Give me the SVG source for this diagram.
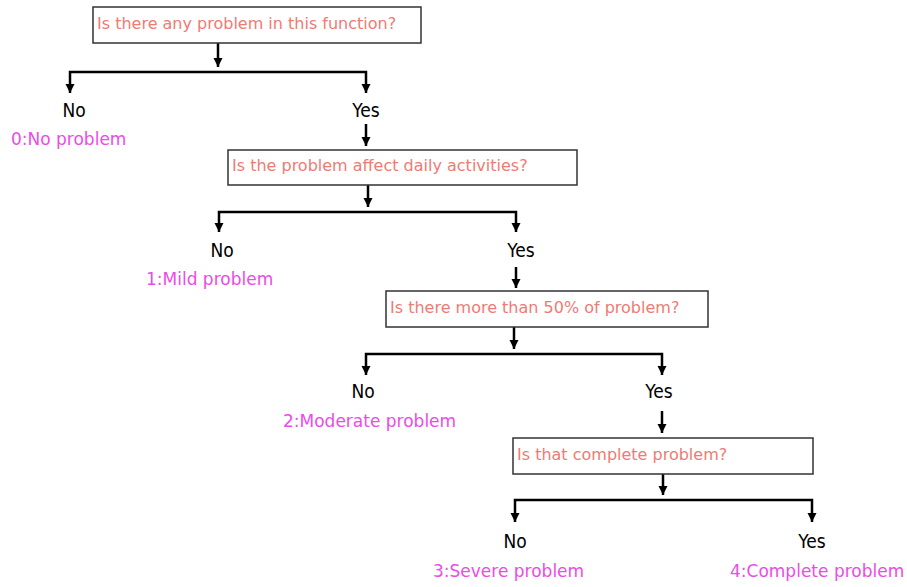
<svg xmlns="http://www.w3.org/2000/svg" width="907" height="587" viewBox="0 0 907 587">
<defs>
<marker id="ah" markerUnits="userSpaceOnUse" markerWidth="10" markerHeight="10" refX="9" refY="4.5" orient="auto">
<path d="M0,0 L9,4.5 L0,9 z" fill="#000"/>
</marker>
<style>
.box{fill:#fff;stroke:#333;stroke-width:1.5}
.q{font-family:"DejaVu Sans",Verdana,sans-serif;font-size:16px;fill:#ee7b74}
.yn{font-family:"DejaVu Sans Condensed","DejaVu Sans",sans-serif;font-size:19px;fill:#000;text-anchor:middle}
.res{font-family:"DejaVu Sans",Verdana,sans-serif;font-size:17px;fill:#ea4ce8}
.c{fill:none;stroke:#000;stroke-width:2.5}
</style>
</defs>
<rect width="907" height="587" fill="#fff"/>
<g id="connectors">
<path class="c" d="M218,43 V67" marker-end="url(#ah)"/>
<path class="c" d="M218,72 H70 V93" marker-end="url(#ah)"/>
<path class="c" d="M218,72 H366 V93" marker-end="url(#ah)"/>
<path class="c" d="M366,124 V146" marker-end="url(#ah)"/>
<path class="c" d="M368,185 V207" marker-end="url(#ah)"/>
<path class="c" d="M368,212 H219 V232" marker-end="url(#ah)"/>
<path class="c" d="M368,212 H516 V232" marker-end="url(#ah)"/>
<path class="c" d="M516,267 V288" marker-end="url(#ah)"/>
<path class="c" d="M514,327 V349" marker-end="url(#ah)"/>
<path class="c" d="M514,354 H366 V375" marker-end="url(#ah)"/>
<path class="c" d="M514,354 H662 V375" marker-end="url(#ah)"/>
<path class="c" d="M662,411 V433" marker-end="url(#ah)"/>
<path class="c" d="M663,474 V495" marker-end="url(#ah)"/>
<path class="c" d="M663,500 H515 V522" marker-end="url(#ah)"/>
<path class="c" d="M663,500 H812 V522" marker-end="url(#ah)"/>
</g>
<g id="q1">
<rect class="box" x="93" y="7" width="328" height="36"/>
<text class="q" x="97" y="29">Is there any problem in this function?</text>
</g>
<g id="no1"><text class="yn" x="74" y="117">No</text></g>
<g id="yes1"><text class="yn" x="366" y="117">Yes</text></g>
<g id="r0"><text class="res" x="11" y="145">0:No problem</text></g>
<g id="q2">
<rect class="box" x="228" y="150" width="349" height="35"/>
<text class="q" x="232" y="171">Is the problem affect daily activities?</text>
</g>
<g id="no2"><text class="yn" x="222" y="257">No</text></g>
<g id="yes2"><text class="yn" x="521" y="257">Yes</text></g>
<g id="r1"><text class="res" x="146" y="285">1:Mild problem</text></g>
<g id="q3">
<rect class="box" x="386" y="291" width="322" height="36"/>
<text class="q" x="390" y="313">Is there more than 50% of problem?</text>
</g>
<g id="no3"><text class="yn" x="363" y="398">No</text></g>
<g id="yes3"><text class="yn" x="659" y="398">Yes</text></g>
<g id="r2"><text class="res" x="283" y="427">2:Moderate problem</text></g>
<g id="q4">
<rect class="box" x="513" y="438" width="300" height="36"/>
<text class="q" x="517" y="460">Is that complete problem?</text>
</g>
<g id="no4"><text class="yn" x="515" y="548">No</text></g>
<g id="yes4"><text class="yn" x="812" y="548">Yes</text></g>
<g id="r3"><text class="res" x="433" y="577">3:Severe problem</text></g>
<g id="r4"><text class="res" x="730" y="577">4:Complete problem</text></g>
</svg>
